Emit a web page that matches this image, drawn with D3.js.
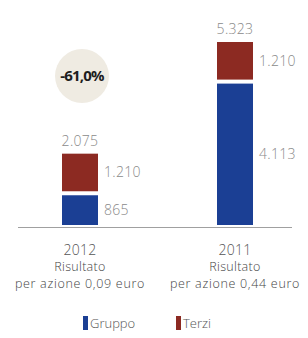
<!DOCTYPE html>
<html>
<head>
<meta charset="utf-8">
<script src="https://cdn.jsdelivr.net/npm/d3@7"></script>
<style>
  html, body { margin: 0; padding: 0; background: #fff; }
  svg { display: block; font-family: 'Open Sans', sans-serif; }
</style>
</head>
<body>
<svg width="308" height="338"></svg>
<script>
let years = ['2012', '2011'];
let gruppo = [865, 4113];
let terzi = [1210, 1210];
let totals = [2075, 5323];
let eps = ['0,09', '0,44'];
let change = '-61,0%';
let legendKeys = ['Gruppo', 'Terzi'];

let svg = d3.select('svg');

let colors = {Gruppo: '#1b3f94', Terzi: '#8c2a22'};

let it = d3.formatLocale({decimal: ',', thousands: '.', grouping: [3], currency: ['', ' €']});
let fmt = it.format(',d');

let x = d3.scalePoint().domain(years).range([80, 235]);
let y = d3.scaleLinear().domain([0, d3.max(totals)]).range([225, 42]);
let barW = 36, gap = 4;

let rows = years.map((yr, i) => ({year: yr, g: gruppo[i], t: terzi[i], tot: totals[i], eps: eps[i]}));

// axis line
svg.append('line')
    .attr('x1', 18).attr('x2', 292)
    .attr('y1', 227.5).attr('y2', 227.5)
    .attr('stroke', '#a0a0a0').attr('stroke-width', 1);

let bar = svg.selectAll('g.bar')
    .data(rows)
    .enter().append('g')
    .attr('class', 'bar')
    .attr('transform', d => `translate(${x(d.year)},0)`);

bar.append('rect')
    .attr('x', -barW / 2)
    .attr('y', d => y(d.g))
    .attr('width', barW)
    .attr('height', d => y(0) - y(d.g))
    .attr('fill', colors.Gruppo);

bar.append('rect')
    .attr('x', -barW / 2)
    .attr('y', d => y(d.tot))
    .attr('width', barW)
    .attr('height', d => y(d.g) - y(d.tot) - gap)
    .attr('fill', colors.Terzi);

// totals above
bar.append('text')
    .attr('y', d => y(d.tot) - 8)
    .attr('text-anchor', 'middle')
    .attr('font-size', 14).attr('font-weight', 300)
    .attr('letter-spacing', 0.3)
    .attr('fill', '#8a8a8a')
    .text(d => fmt(d.tot));

// segment labels
bar.append('text')
    .attr('x', barW / 2 + 6)
    .attr('y', d => (y(d.g) - gap + y(d.tot)) / 2)
    .attr('dy', '0.35em')
    .attr('font-size', 14).attr('font-weight', 300)
    .attr('letter-spacing', 0.3)
    .attr('fill', '#8a8a8a')
    .text(d => fmt(d.t));

bar.append('text')
    .attr('x', barW / 2 + 6)
    .attr('y', d => (y(d.g) + y(0)) / 2)
    .attr('dy', '0.35em')
    .attr('font-size', 14).attr('font-weight', 300)
    .attr('letter-spacing', 0.3)
    .attr('fill', '#8a8a8a')
    .text(d => fmt(d.g));

// year + caption
bar.append('text')
    .attr('y', 255)
    .attr('text-anchor', 'middle')
    .attr('font-size', 14).attr('font-weight', 300)
    .attr('letter-spacing', 0.3)
    .attr('fill', '#555')
    .text(d => d.year);

bar.append('text')
    .attr('y', 271)
    .attr('text-anchor', 'middle')
    .attr('font-size', 12.5).attr('font-weight', 300)
    .attr('letter-spacing', 0.3)
    .attr('fill', '#444')
    .text('Risultato');

bar.append('text')
    .attr('y', 288)
    .attr('text-anchor', 'middle')
    .attr('font-size', 12.5).attr('font-weight', 300)
    .attr('letter-spacing', 0.7)
    .attr('fill', '#444')
    .text(d => `per azione ${d.eps} euro`);

// change badge
svg.append('circle')
    .attr('cx', 82).attr('cy', 76).attr('r', 27)
    .attr('fill', '#efebe2');

svg.append('text')
    .attr('x', 82).attr('y', 76)
    .attr('dy', '0.35em')
    .attr('text-anchor', 'middle')
    .attr('font-size', 15).attr('font-weight', 700)
    .attr('letter-spacing', -0.8)
    .attr('fill', '#1e1e1e')
    .text(change);

// legend
let lg = svg.selectAll('g.legend')
    .data(legendKeys)
    .enter().append('g')
    .attr('class', 'legend')
    .attr('transform', (d, i) => `translate(${83 + i * 93},316)`);

lg.append('rect')
    .attr('width', 5).attr('height', 14)
    .attr('fill', d => colors[d]);

lg.append('text')
    .attr('x', 7).attr('y', 12)
    .attr('font-size', 13).attr('font-weight', 300)
    .attr('fill', '#555')
    .text(d => d);
</script>
</body>
</html>
